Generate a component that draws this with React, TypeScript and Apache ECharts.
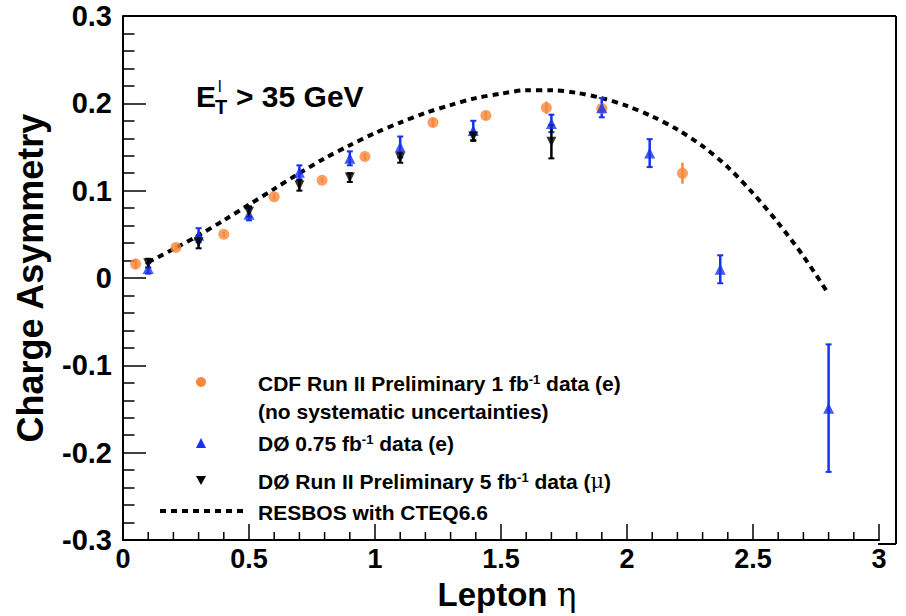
import React, { useEffect, useRef } from "react";
import * as echarts from "echarts";

// ---------- data ----------
const cdfEta = [0.05, 0.21, 0.4, 0.6, 0.79, 0.96, 1.23, 1.44, 1.68, 1.9, 2.22];
const cdfAsym = [0.016, 0.035, 0.05, 0.093, 0.112, 0.139, 0.178, 0.186, 0.195, 0.194, 0.12];
const cdfErr = [0.006, 0.003, 0.003, 0.003, 0.003, 0.004, 0.005, 0.005, 0.007, 0.008, 0.012];

const d0eEta = [0.1, 0.3, 0.5, 0.7, 0.9, 1.1, 1.39, 1.7, 1.9, 2.09, 2.37, 2.8];
const d0eAsym = [0.011, 0.049, 0.073, 0.121, 0.137, 0.15, 0.169, 0.177, 0.195, 0.143, 0.01, -0.149];
const d0eErr = [0.006, 0.008, 0.007, 0.008, 0.008, 0.012, 0.011, 0.01, 0.011, 0.016, 0.016, 0.073];

const d0muEta = [0.1, 0.3, 0.5, 0.7, 0.9, 1.1, 1.39, 1.7];
const d0muAsym = [0.017, 0.041, 0.076, 0.106, 0.115, 0.138, 0.162, 0.156];
const d0muErr = [0.005, 0.007, 0.006, 0.006, 0.005, 0.006, 0.005, 0.019];

const resbosEta = [0.1, 0.2, 0.3, 0.4, 0.5, 0.6, 0.7, 0.8, 0.9, 1.0, 1.1, 1.2, 1.3, 1.4, 1.5, 1.6, 1.7, 1.8, 1.9, 2.0, 2.1, 2.2, 2.3, 2.4, 2.5, 2.6, 2.7, 2.79];
const resbosAsym = [0.018, 0.033, 0.049, 0.066, 0.084, 0.102, 0.12, 0.137, 0.152, 0.166, 0.178, 0.189, 0.198, 0.206, 0.211, 0.215, 0.215, 0.212, 0.206, 0.197, 0.185, 0.17, 0.151, 0.127, 0.097, 0.063, 0.025, -0.014];

// x-axis tick values (eta)
const xMajorTicks = [0, 0.5, 1, 1.5, 2, 2.5, 3];
const xMinorTicks = [0.1, 0.2, 0.3, 0.4, 0.6, 0.7, 0.8, 0.9, 1.1, 1.2, 1.3, 1.4, 1.6, 1.7, 1.8, 1.9, 2.1, 2.2, 2.3, 2.4, 2.6, 2.7, 2.8, 2.9];

const legendLabels = [
  "CDF Run II Preliminary 1 fb",
  "(no systematic uncertainties)",
  "DØ 0.75 fb",
  "DØ Run II Preliminary 5 fb",
  "RESBOS with CTEQ6.6",
];

const ORANGE = "#f5883a";
const BLUE = "#1533ee";
const BLACK = "#000000";
const FONT = "'Liberation Sans', Arial, Helvetica, sans-serif";
const Y_MIN = -0.3;

function errorSeries(xs: number[], ys: number[], errs: number[], color: string, cap: boolean) {
  return {
    type: "custom",
    silent: true,
    z: 2,
    data: xs.map((x, i) => [x, ys[i] - errs[i], ys[i] + errs[i]]),
    encode: { x: 0, y: [1, 2] },
    renderItem: (params: any, api: any) => {
      const x = api.value(0);
      const lo = api.coord([x, api.value(1)]);
      const hi = api.coord([x, api.value(2)]);
      const children: any[] = [
        { type: "line", shape: { x1: lo[0], y1: lo[1], x2: hi[0], y2: hi[1] }, style: { stroke: color, lineWidth: 2.5 } },
      ];
      if (cap) {
        children.push({ type: "line", shape: { x1: lo[0] - 3, y1: lo[1], x2: lo[0] + 3, y2: lo[1] }, style: { stroke: color, lineWidth: 2 } });
        children.push({ type: "line", shape: { x1: hi[0] - 3, y1: hi[1], x2: hi[0] + 3, y2: hi[1] }, style: { stroke: color, lineWidth: 2 } });
      }
      return { type: "group", children };
    },
  };
}

// x-axis ticks drawn through the axis scale (inside ticks)
function tickSeries(values: number[], len: number) {
  return {
    type: "custom",
    silent: true,
    z: 5,
    clip: false,
    data: values.map((v) => [v, Y_MIN]),
    encode: { x: 0, y: 1 },
    renderItem: (params: any, api: any) => {
      const p = api.coord([api.value(0), api.value(1)]);
      return { type: "line", shape: { x1: p[0], y1: p[1], x2: p[0], y2: p[1] - len }, style: { stroke: "#000", lineWidth: 1.5 } };
    },
  };
}

const rich = {
  m: { fontSize: 21, fontWeight: "bold", fontFamily: FONT, color: "#000" },
  s: { fontSize: 13, fontWeight: "bold", fontFamily: FONT, color: "#000", verticalAlign: "top" },
};

// frame geometry (page pixels)
const FL = 123, FT = 16, FR = 896, FB = 544;

export default function App() {
  const ref = useRef<HTMLDivElement>(null);
  useEffect(() => {
    if (!ref.current) return;
    const chart = echarts.init(ref.current, undefined, { renderer: "svg" });
    const lx = 258;
    const frameStyle = { stroke: "#000", lineWidth: 2 };
    const option: any = {
      animation: false,
      backgroundColor: "#ffffff",
      grid: { left: FL, right: 906 - 879, top: FT, bottom: 616 - FB, show: false },
      xAxis: {
        type: "value",
        min: 0,
        max: 3,
        interval: 0.5,
        splitLine: { show: false },
        axisLine: { show: true, onZero: false, lineStyle: { color: "#000", width: 2 } },
        axisTick: { show: false },
        minorTick: { show: false },
        axisLabel: {
          fontSize: 27,
          fontWeight: "bold",
          fontFamily: FONT,
          color: "#000",
          margin: 5,
          showMaxLabel: true,
          formatter: (v: number) => (Math.abs(v) < 1e-9 ? "0" : String(+v.toFixed(1))),
        },
        name: "{a|Lepton }{b|η}",
        nameLocation: "middle",
        nameGap: 38,
        nameTextStyle: {
          padding: [0, 0, 0, 12],
          rich: {
            a: { fontSize: 33, fontWeight: "bold", fontFamily: FONT, color: "#000" },
            b: { fontSize: 33, fontWeight: "normal", fontFamily: "'DejaVu Serif', serif", color: "#000" },
          },
        },
      },
      yAxis: {
        type: "value",
        min: Y_MIN,
        max: 0.3,
        interval: 0.1,
        splitLine: { show: false },
        axisLine: { show: true, onZero: false, lineStyle: { color: "#000", width: 2 } },
        axisTick: { show: true, inside: true, length: 23, lineStyle: { color: "#000", width: 1.5 } },
        minorTick: { show: true, splitNumber: 5, length: 11.5, lineStyle: { color: "#000", width: 1.5 } },
        axisLabel: {
          fontSize: 29,
          fontWeight: "bold",
          fontFamily: FONT,
          color: "#000",
          margin: 11,
          formatter: (v: number) => (Math.abs(v) < 1e-9 ? "0" : v.toFixed(1)),
        },
        name: "Charge Asymmetry",
        nameLocation: "middle",
        nameGap: 75,
        nameTextStyle: { fontSize: 36, fontWeight: "bold", fontFamily: FONT, color: "#000" },
      },
      series: [
        tickSeries(xMajorTicks, 16),
        tickSeries(xMinorTicks, 8),
        {
          type: "line",
          name: "RESBOS with CTEQ6.6",
          data: resbosEta.map((x, i) => [x, resbosAsym[i]]),
          showSymbol: false,
          smooth: 0.3,
          z: 1,
          lineStyle: { color: BLACK, width: 4, type: [6, 5], cap: "butt" },
          silent: true,
        },
        errorSeries(cdfEta, cdfAsym, cdfErr, ORANGE, false),
        errorSeries(d0eEta, d0eAsym, d0eErr, BLUE, true),
        errorSeries(d0muEta, d0muAsym, d0muErr, BLACK, true),
        {
          type: "scatter",
          name: "CDF",
          data: cdfEta.map((x, i) => [x, cdfAsym[i]]),
          symbol: "circle",
          symbolSize: 11,
          itemStyle: { color: ORANGE },
          z: 3,
        },
        {
          type: "scatter",
          name: "D0 e",
          data: d0eEta.map((x, i) => [x, d0eAsym[i]]),
          symbol: "triangle",
          symbolSize: 11,
          itemStyle: { color: BLUE },
          z: 4,
        },
        {
          type: "scatter",
          name: "D0 mu",
          data: d0muEta.map((x, i) => [x, d0muAsym[i]]),
          symbol: "triangle",
          symbolRotate: 180,
          symbolSize: 10,
          itemStyle: { color: BLACK },
          z: 4,
        },
      ],
      graphic: [
        // frame (top, right, and the bottom extension past eta = 3)
        { type: "line", shape: { x1: FL, y1: FT, x2: FR, y2: FT }, style: frameStyle },
        { type: "line", shape: { x1: FR, y1: FT, x2: FR, y2: FB }, style: frameStyle },
        { type: "line", shape: { x1: 878, y1: FB, x2: FR, y2: FB }, style: frameStyle },
        // E_T^l > 35 GeV
        { type: "text", left: 196, top: 81, style: { text: "E", fontSize: 30, fontWeight: "bold", fontFamily: FONT, fill: "#000" } },
        { type: "text", left: 218, top: 78, style: { text: "l", fontSize: 16, fontWeight: "normal", fontFamily: FONT, fill: "#000" } },
        { type: "text", left: 215, top: 97, style: { text: "T", fontSize: 20, fontWeight: "bold", fontFamily: FONT, fill: "#000" } },
        { type: "text", left: 236, top: 81, style: { text: "> 35 GeV", fontSize: 30, fontWeight: "bold", fontFamily: FONT, fill: "#000" } },
        // legend markers
        { type: "circle", shape: { cx: 201, cy: 382, r: 5 }, style: { fill: ORANGE } },
        { type: "polygon", shape: { points: [[196, 448], [206, 448], [201, 438]] }, style: { fill: BLUE } },
        { type: "polygon", shape: { points: [[196, 476], [206, 476], [201, 485]] }, style: { fill: BLACK } },
        { type: "line", shape: { x1: 160, y1: 511, x2: 243, y2: 511 }, style: { stroke: BLACK, lineWidth: 4, lineDash: [6, 5] } },
        // legend texts
        { type: "text", x: lx, y: 383, style: { text: `{m|${legendLabels[0]}}{s|-1}{m| data (e)}`, rich, verticalAlign: "middle" } },
        { type: "text", x: lx, y: 411, style: { text: `{m|${legendLabels[1]}}`, rich, verticalAlign: "middle" } },
        { type: "text", x: lx, y: 443, style: { text: `{m|${legendLabels[2]}}{s|-1}{m| data (e)}`, rich, verticalAlign: "middle" } },
        { type: "text", x: lx, y: 481, style: { text: `{m|${legendLabels[3]}}{s|-1}{m| data (}{g|μ}{m|)}`, rich: { ...rich, g: { fontSize: 21, fontWeight: "normal", fontFamily: "'DejaVu Serif', serif", color: "#000" } }, verticalAlign: "middle" } },
        { type: "text", x: lx, y: 512, style: { text: `{m|${legendLabels[4]}}`, rich, verticalAlign: "middle" } },
      ],
    };
    chart.setOption(option);
    return () => chart.dispose();
  }, []);
  return <div ref={ref} style={{ position: "absolute", left: 0, top: 0, width: 906, height: 616 }} />;
}
